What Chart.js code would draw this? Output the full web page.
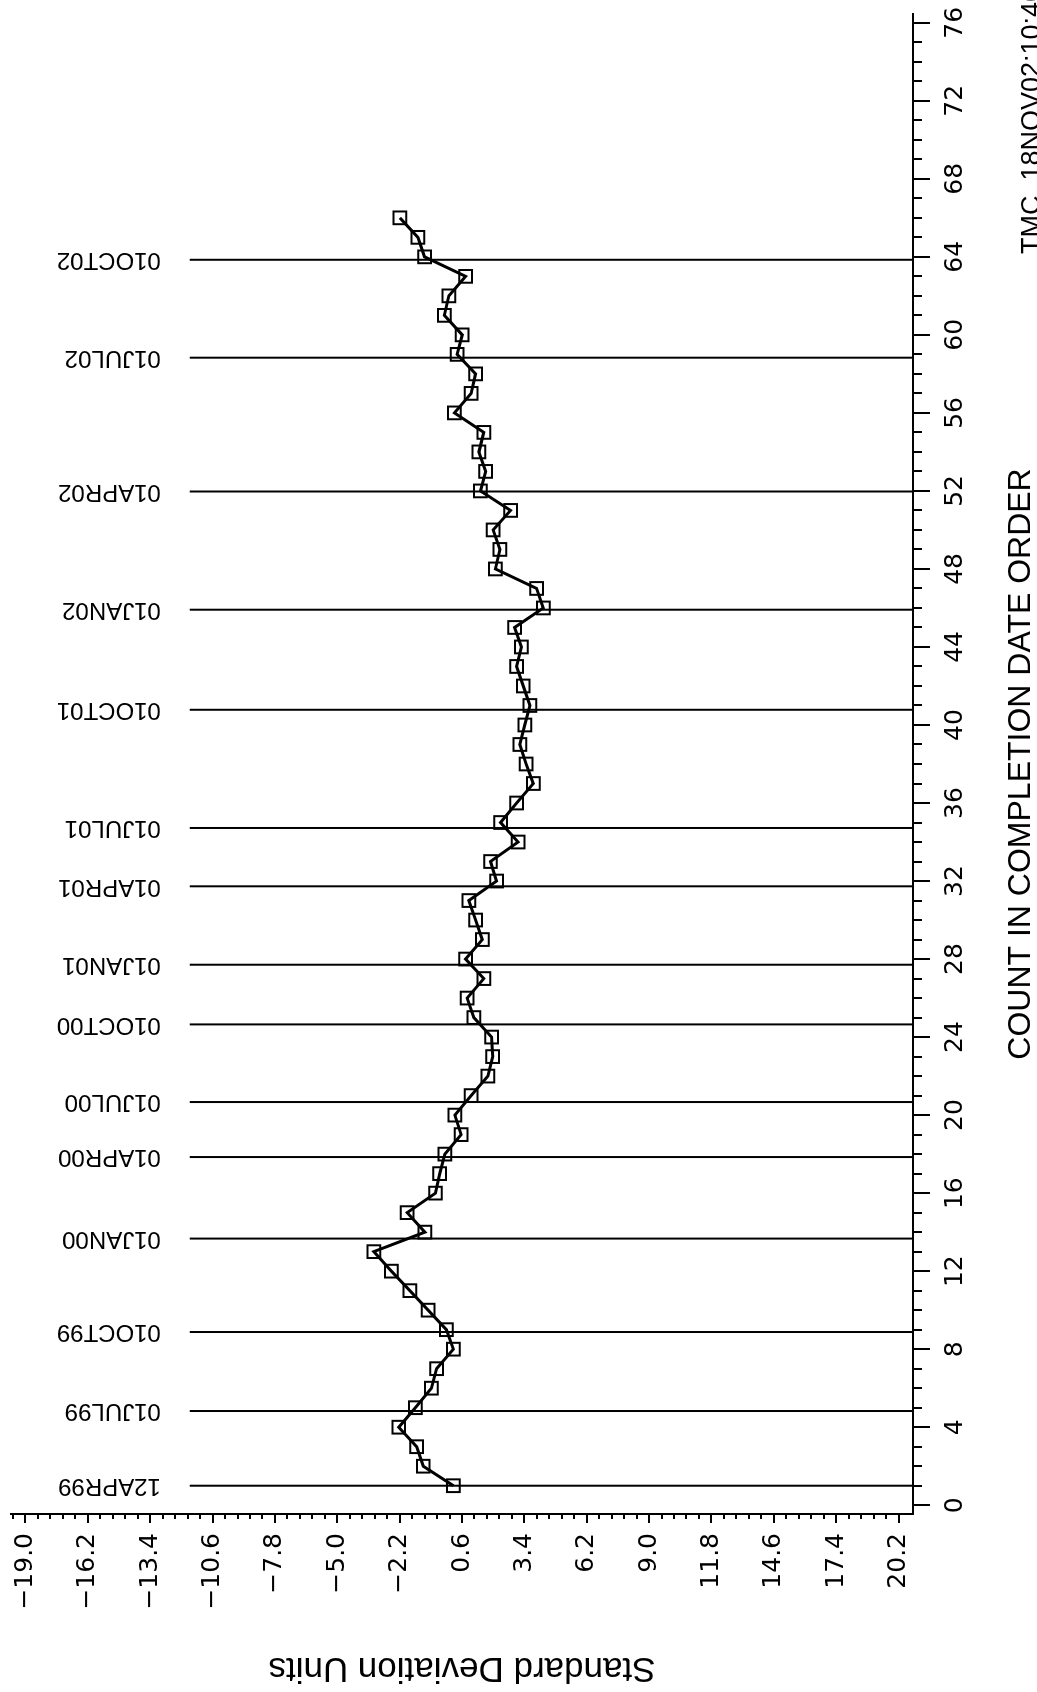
<!DOCTYPE html>
<html>
<head>
<meta charset="utf-8">
<script src="https://cdn.jsdelivr.net/npm/chart.js@4.4.1/dist/chart.umd.min.js"></script>
<style>
  html, body { margin: 0; padding: 0; background: #fff; overflow: hidden; }
  body { width: 1037px; height: 1692px; position: relative; }
  /* the plot is drawn landscape and turned a quarter turn to fit the page */
  #chart { position: absolute; left: 0; top: 0; transform-origin: 0 0; transform: translateY(1692px) rotate(-90deg); }
</style>
</head>
<body>
<canvas id="chart" width="1692" height="1037"></canvas>
<script>
// values in completion order (count 1..66)
const sdValues = [
  0.21, -1.14, -1.44, -2.24, -1.49, -0.77, -0.54, 0.21, -0.10, -0.92,
  -1.74, -2.57, -3.36, -1.07, -1.86, -0.59, -0.40, -0.17, 0.56, 0.28,
  1.01, 1.76, 1.98, 1.93, 1.13, 0.83, 1.58, 0.76, 1.51, 1.21,
  0.91, 2.15, 1.88, 3.12, 2.33, 3.05, 3.80, 3.48, 3.20, 3.42,
  3.65, 3.35, 3.05, 3.27, 2.96, 4.25, 3.95, 2.10, 2.30, 2.00,
  2.78, 1.43, 1.66, 1.36, 1.58, 0.26, 1.01, 1.21, 0.38, 0.61,
  -0.19, 0.01, 0.76, -1.08, -1.38, -2.19
];

// calendar markers along the count axis
const dateLabels = ['12APR99', '01JUL99', '01OCT99', '01JAN00', '01APR00', '01JUL00', '01OCT00', '01JAN01',
                    '01APR01', '01JUL01', '01OCT01', '01JAN02', '01APR02', '01JUL02', '01OCT02'];
const dateCounts = [1.0, 4.83, 8.88, 13.67, 17.85, 20.67, 24.65, 27.71,
                    31.73, 34.72, 40.78, 45.91, 51.97, 58.83, 63.85];

const countTicks = [0, 4, 8, 12, 16, 20, 24, 28, 32, 36, 40, 44, 48, 52, 56, 60, 64, 68, 72, 76];
const sdTicks = [-19.0, -16.2, -13.4, -10.6, -7.8, -5.0, -2.2, 0.6, 3.4, 6.2, 9.0, 11.8, 14.6, 17.4, 20.2];

const stampText = 'TMC  18NOV02:10:46';

const LINE_TOP = -11.62;   // sd value where the date lines start
const SD_MINOR = 0.56;

const tickFont = { family: '"DejaVu Sans", sans-serif', size: 25 };
const sansFamily = '"Liberation Sans", Arial, sans-serif';

const overlay = {
  id: 'overlay',
  beforeDatasetsDraw(chart) {
    const { ctx, chartArea, scales: { x, y } } = chart;
    const top = y.getPixelForValue(LINE_TOP);
    ctx.save();
    ctx.strokeStyle = '#000';
    ctx.fillStyle = '#000';
    ctx.lineWidth = 2;
    ctx.font = '24px ' + sansFamily;
    dateCounts.forEach((c, i) => {
      const px = x.getPixelForValue(c);
      ctx.beginPath();
      ctx.moveTo(px, top);
      ctx.lineTo(px, chartArea.bottom);
      ctx.stroke();
      ctx.save();
      ctx.translate(px, top - 29);
      ctx.rotate(-Math.PI / 2);
      ctx.textAlign = 'left';
      ctx.textBaseline = 'middle';
      ctx.fillText(dateLabels[i], 0, 0);
      ctx.restore();
    });
    ctx.restore();
  },
  afterDraw(chart) {
    const { ctx, chartArea, scales: { x, y } } = chart;
    ctx.save();
    ctx.strokeStyle = '#000';
    ctx.lineWidth = 2;
    // minor ticks, count axis
    ctx.beginPath();
    for (let c = 0; c <= 76; c++) {
      if (c % 4 === 0) continue;
      const px = Math.round(x.getPixelForValue(c));
      ctx.moveTo(px, chartArea.bottom);
      ctx.lineTo(px, chartArea.bottom + 9);
    }
    // minor ticks, sd axis
    for (let k = -1; k <= 70; k++) {
      if (k % 5 === 0) continue;
      const v = sdTicks[0] + k * SD_MINOR;
      if (v < y.min || v > y.max) continue;
      const py = Math.round(y.getPixelForValue(v));
      ctx.moveTo(chartArea.left, py);
      ctx.lineTo(chartArea.left - 5, py);
    }
    ctx.stroke();
    // run stamp, partly off the edge as in the print
    ctx.fillStyle = '#000';
    ctx.font = '27px ' + sansFamily;
    ctx.textAlign = 'left';
    ctx.textBaseline = 'alphabetic';
    ctx.fillText(stampText, chartArea.right - 240, chart.height + 3);
    ctx.restore();
  }
};

new Chart(document.getElementById('chart'), {
  type: 'line',
  data: {
    datasets: [{
      data: sdValues.map((v, i) => ({ x: i + 1, y: v })),
      borderColor: '#000',
      borderWidth: 3,
      tension: 0,
      pointStyle: 'rect',
      pointRadius: 9,
      pointBorderWidth: 2,
      pointBorderColor: '#000',
      pointBackgroundColor: 'rgba(0,0,0,0)'
    }]
  },
  options: {
    responsive: false,
    animation: false,
    devicePixelRatio: 1,
    layout: { padding: { top: 10, right: 14, bottom: 0, left: 0 } },
    plugins: { legend: { display: false }, tooltip: { enabled: false } },
    scales: {
      x: {
        type: 'linear',
        position: 'bottom',
        min: -0.45,
        max: 76.45,
        afterBuildTicks: s => { s.ticks = countTicks.map(v => ({ value: v })); },
        afterFit: s => { s.height = 124; s.paddingLeft = 0; s.paddingRight = 0; },
        ticks: { font: tickFont, color: '#000', padding: 10, maxRotation: 0, autoSkip: false, callback: v => String(v) },
        grid: { drawOnChartArea: false, drawTicks: true, tickLength: 17, color: '#000', lineWidth: 2 },
        border: { display: true, color: '#000', width: 2 },
        title: {
          display: true,
          text: 'COUNT IN COMPLETION DATE ORDER',
          color: '#000',
          font: { family: sansFamily, size: 32, lineHeight: 1 },
          padding: { top: 0, bottom: 0 }
        }
      },
      y: {
        type: 'linear',
        position: 'left',
        reverse: true,
        min: -19.65,
        max: 20.85,
        afterBuildTicks: s => { s.ticks = sdTicks.map(v => ({ value: v })); },
        afterFit: s => { s.width = 178; s.paddingTop = 0; s.paddingBottom = 0; },
        ticks: {
          font: tickFont, color: '#000', padding: 10, autoSkip: false,
          callback: v => (v < 0 ? '\u2212' : '') + Math.abs(v).toFixed(1)
        },
        grid: { drawOnChartArea: false, drawTicks: true, tickLength: 9, color: '#000', lineWidth: 2 },
        border: { display: true, color: '#000', width: 2 },
        title: {
          display: true,
          text: 'Standard Deviation Units',
          color: '#000',
          font: { family: sansFamily, size: 35, lineHeight: 1 },
          padding: { top: 7, bottom: 0 }
        }
      }
    }
  },
  plugins: [overlay]
});
</script>
</body>
</html>
